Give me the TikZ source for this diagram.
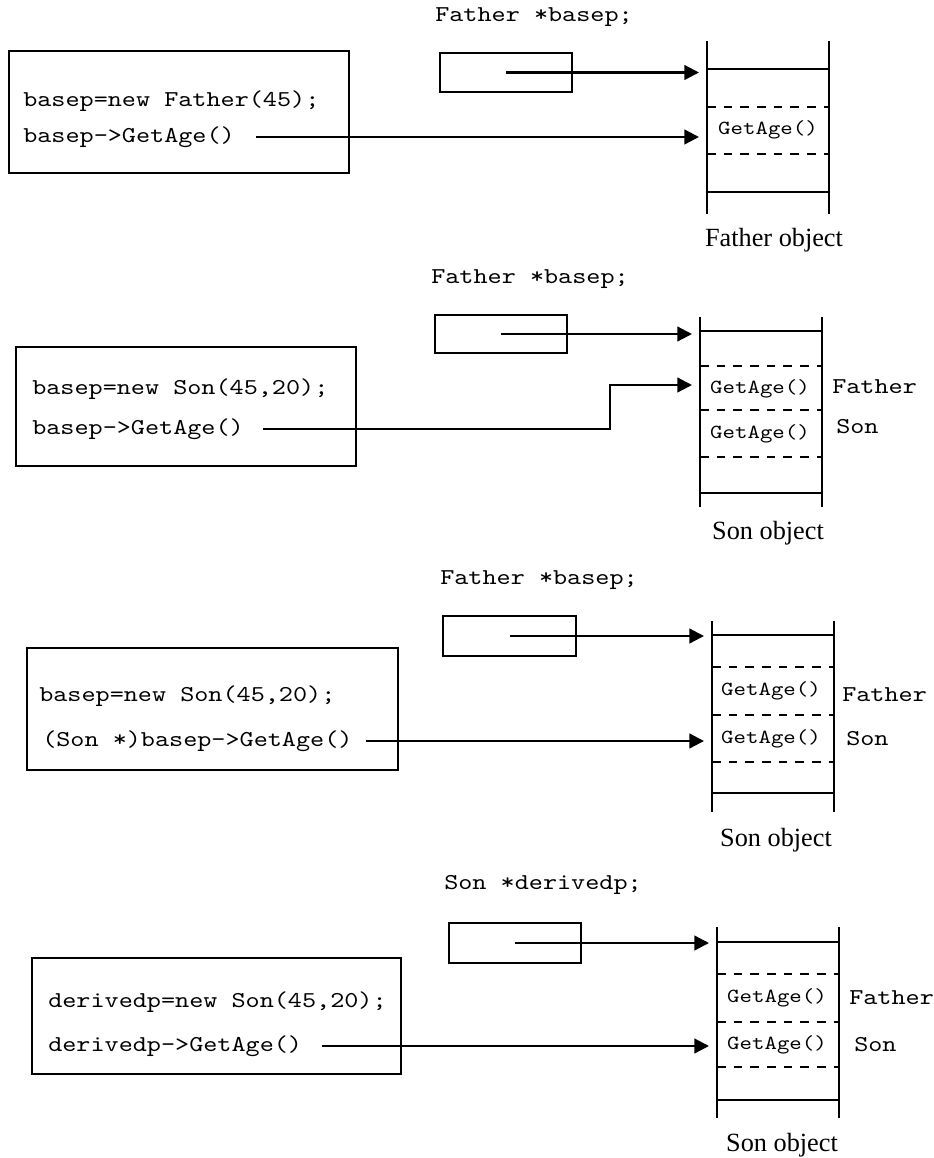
\documentclass[tikz,border=0pt]{standalone}
\usepackage{fontspec}
\setmainfont{Liberation Serif}
\newfontfamily\codefont{lmmono10-regular.otf}[FakeStretch=1.185]
\usetikzlibrary{arrows.meta,fit}
\begin{document}
\begin{tikzpicture}[x=0.75pt,y=-0.75pt,
  code/.style={font=\fontsize{17}{20}\codefont, inner sep=0pt, anchor=west},
  decl/.style={font=\fontsize{17}{20}\codefont, inner sep=0pt},
  slottext/.style={font=\fontsize{15}{18}\codefont, inner sep=0pt},
  caption/.style={font=\fontsize{19.7}{22}\selectfont, inner sep=0pt},
  box/.style={draw, line width=1.3pt, inner sep=0pt},
  wall/.style={line width=1.4pt},
  slot/.style={line width=1.4pt, dash pattern=on 6.5pt off 6pt},
  ptr/.style={line width=1.7pt, -{Triangle[length=11pt,width=11pt]}, shorten >=6pt},
]
\useasboundingbox (0,0) rectangle (934,1158);

% ---------- Father *basep -> Father object ----------
\node[decl] (d1) at (534,17) {Father *basep;};
\node[box, fit={(440,53) (572,92)}] (p1) {};
\node[box, fit={(9,51) (349,173)}] (c1) {};
\node[code] (a1) at (23,101) {basep=new Father(45);};
\node[code] (b1) at (23,137) {basep->GetAge()};
\draw[wall] (707,41) -- (707,214) (829,41) -- (829,214);
\draw[wall] (707,69) -- (829,69) (707,192) -- (829,192);
\draw[slot] (707,107) -- (829,107) (707,154) -- (829,154);
\coordinate (top1) at (707,72.5);
\coordinate (g1w) at (707,134);
\node[slottext] (g1) at (768,130) {GetAge()};
\node[caption] (o1) at (774,240) {Father object};
\draw[ptr] (p1.center) -- (top1);
\draw[ptr, shorten <=16pt] (b1.east) -- (b1.east -| g1w);

% ---------- Father *basep -> Son object ----------
\node[decl] (d2) at (530,279) {Father *basep;};
\node[box, fit={(435,315) (567,353)}] (p2) {};
\node[box, fit={(16,347) (356,466)}] (c2) {};
\node[code] (a2) at (32,389) {basep=new Son(45,20);};
\node[code] (b2) at (32,429) {basep->GetAge()};
\draw[wall] (700,317) -- (700,507) (822,317) -- (822,507);
\draw[wall] (700,331) -- (822,331) (700,493) -- (822,493);
\draw[slot] (700,366) -- (822,366) (700,410) -- (822,410) (700,457) -- (822,457);
\coordinate (top2) at (700,334);
\coordinate (turn2) at (610,385);
\coordinate (g2w) at (700,385);
\node[slottext] (g2a) at (760,389) {GetAge()};
\node[slottext] (g2b) at (760,434) {GetAge()};
\node[decl, anchor=west] (f2) at (832,387) {Father};
\node[decl, anchor=west] (s2) at (836,427) {Son};
\node[caption] (o2) at (768,533) {Son object};
\draw[ptr] (p2.center) -- (top2);
\draw[ptr, shorten <=14pt] (b2.east) -| (turn2) -- (g2w);

% ---------- Father *basep cast to Son * ----------
\node[decl] (d3) at (539,580) {Father *basep;};
\node[box, fit={(443,616) (576,656)}] (p3) {};
\node[box, fit={(27,648) (398,770)}] (c3) {};
\node[code] (a3) at (39,696) {basep=new Son(45,20);};
\node[code] (b3) at (42,741) {(Son *)basep->GetAge()};
\draw[wall] (712,621) -- (712,812) (834,621) -- (834,812);
\draw[wall] (712,635) -- (834,635) (712,793) -- (834,793);
\draw[slot] (712,667) -- (834,667) (712,715) -- (834,715) (712,762) -- (834,762);
\coordinate (top3) at (712,636);
\coordinate (g3w) at (712,740);
\node[slottext] (g3a) at (771,691) {GetAge()};
\node[slottext] (g3b) at (771,739) {GetAge()};
\node[decl, anchor=west] (f3) at (842,695) {Father};
\node[decl, anchor=west] (s3) at (846,739) {Son};
\node[caption] (o3) at (776,840) {Son object};
\draw[ptr] (p3.center) -- (top3);
\draw[ptr, shorten <=10pt] (b3.east) -- (b3.east -| g3w);

% ---------- Son *derivedp -> Son object ----------
\node[decl] (d4) at (543,885) {Son *derivedp;};
\node[box, fit={(449,923) (581,963)}] (p4) {};
\node[box, fit={(32,958) (401,1074)}] (c4) {};
\node[code] (a4) at (48,1002) {derivedp=new Son(45,20);};
\node[code] (b4) at (48,1046) {derivedp->GetAge()};
\draw[wall] (717,927) -- (717,1118) (839,927) -- (839,1118);
\draw[wall] (717,942) -- (839,942) (717,1100) -- (839,1100);
\draw[slot] (717,974) -- (839,974) (717,1022) -- (839,1022) (717,1067) -- (839,1067);
\coordinate (top4) at (717,943);
\coordinate (g4w) at (717,1045);
\node[slottext] (g4a) at (777,998) {GetAge()};
\node[slottext] (g4b) at (777,1045) {GetAge()};
\node[decl, anchor=west] (f4) at (849,998) {Father};
\node[decl, anchor=west] (s4) at (854,1045) {Son};
\node[caption] (o4) at (782,1145) {Son object};
\draw[ptr] (p4.center) -- (top4);
\draw[ptr, shorten <=15pt] (b4.east) -- (b4.east -| g4w);
\end{tikzpicture}
\end{document}
